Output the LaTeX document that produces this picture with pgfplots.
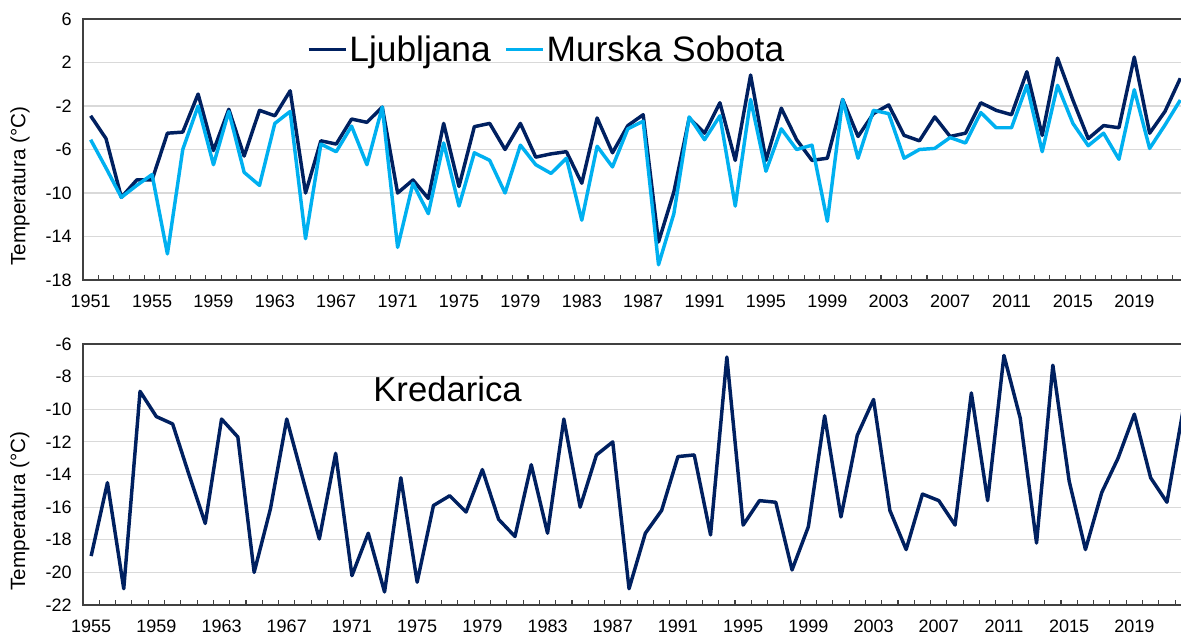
\documentclass[border=0pt]{standalone}
\usepackage{fontspec}
\setmainfont{Liberation Sans}
\usepackage{pgfplots}
\pgfplotsset{compat=1.18}
\definecolor{navy}{HTML}{002060}
\definecolor{sky}{HTML}{00B0F0}
\definecolor{gridc}{HTML}{D9D9D9}
\definecolor{axc}{HTML}{404040}

\pgfplotstableread{
year lj ms
1951 -2.9 -5.1
1952 -5.0 -7.7
1953 -10.4 -10.4
1954 -8.8 -9.3
1955 -8.8 -8.3
1956 -4.5 -15.6
1957 -4.4 -6.0
1958 -0.9 -2.0
1959 -6.1 -7.4
1960 -2.3 -2.5
1961 -6.6 -8.1
1962 -2.4 -9.3
1963 -2.9 -3.6
1964 -0.6 -2.5
1965 -10.0 -14.2
1966 -5.2 -5.5
1967 -5.5 -6.2
1968 -3.2 -3.85
1969 -3.5 -7.4
1970 -2.1 -2.1
1971 -10.0 -15.0
1972 -8.8 -9.1
1973 -10.5 -11.9
1974 -3.6 -5.4
1975 -9.4 -11.2
1976 -3.9 -6.3
1977 -3.6 -7.0
1978 -6.0 -10.0
1979 -3.6 -5.6
1980 -6.7 -7.4
1981 -6.4 -8.2
1982 -6.2 -6.8
1983 -9.1 -12.5
1984 -3.1 -5.7
1985 -6.3 -7.6
1986 -3.8 -4.1
1987 -2.8 -3.4
1988 -14.5 -16.6
1989 -9.9 -11.9
1990 -3.1 -3.0
1991 -4.5 -5.1
1992 -1.7 -2.9
1993 -7.0 -11.2
1994 0.85 -1.4
1995 -7.0 -8.0
1996 -2.2 -4.1
1997 -5.1 -6.0
1998 -7.0 -5.6
1999 -6.8 -12.6
2000 -1.4 -1.4
2001 -4.8 -6.8
2002 -2.7 -2.4
2003 -1.9 -2.7
2004 -4.7 -6.8
2005 -5.2 -6.0
2006 -3.0 -5.9
2007 -4.8 -4.9
2008 -4.5 -5.4
2009 -1.7 -2.6
2010 -2.4 -4.0
2011 -2.8 -4.0
2012 1.15 -0.1
2013 -4.7 -6.2
2014 2.4 -0.1
2015 -1.45 -3.6
2016 -5.0 -5.65
2017 -3.8 -4.5
2018 -4.0 -6.9
2019 2.5 -0.5
2020 -4.5 -5.9
2021 -2.5 -3.75
2022 0.55 -1.45
}\topdata

\pgfplotstableread{
year kr
1955 -19.0
1956 -14.5
1957 -21.0
1958 -8.9
1959 -10.45
1960 -10.9
1961 -14.0
1962 -17.0
1963 -10.6
1964 -11.7
1965 -20.0
1966 -16.1
1967 -10.6
1968 -14.3
1969 -17.95
1970 -12.7
1971 -20.2
1972 -17.6
1973 -21.2
1974 -14.2
1975 -20.6
1976 -15.9
1977 -15.3
1978 -16.3
1979 -13.7
1980 -16.75
1981 -17.8
1982 -13.4
1983 -17.6
1984 -10.6
1985 -16.0
1986 -12.8
1987 -12.0
1988 -21.0
1989 -17.6
1990 -16.2
1991 -12.9
1992 -12.8
1993 -17.7
1994 -6.8
1995 -17.1
1996 -15.6
1997 -15.7
1998 -19.85
1999 -17.2
2000 -10.4
2001 -16.6
2002 -11.6
2003 -9.4
2004 -16.2
2005 -18.6
2006 -15.2
2007 -15.6
2008 -17.1
2009 -9.0
2010 -15.6
2011 -6.7
2012 -10.55
2013 -18.2
2014 -7.3
2015 -14.4
2016 -18.6
2017 -15.1
2018 -13.0
2019 -10.3
2020 -14.2
2021 -15.7
2022 -10.0
}\botdata

\pgfplotsset{
  base/.style={
    scale only axis,
    height=195.75pt,
    axis line style={axc, line width=1pt},
    ymajorgrids=true,
    major grid style={gridc, line width=0.9pt},
    major tick length=0pt,
    minor tick length=3.75pt,
    minor tick style={axc, line width=0.8pt},
    tick align=inside,
    xtick pos=bottom,
    ytick pos=left,
    ticklabel style={font=\fontsize{13.5}{16}\selectfont, text=black},
    /pgf/number format/assume math mode=true,
    /pgf/number format/1000 sep={},
    xticklabel style={yshift=-8pt},
    yticklabel style={xshift=-5pt},
    ylabel={Temperatura (°C)},
    ylabel style={font=\fontsize{15.5}{18}\selectfont, at={(axis description cs:-0.057,0.36)}, anchor=center},
    every axis plot/.append style={line width=2.6pt, line join=round},
  }
}

\begin{document}
\begin{tikzpicture}
\begin{axis}[base,
  at={(62.25pt,-14.25pt)}, anchor=north west,
  width=828.75pt,
  xmin=1950.5, xmax=2022.5,
  ymin=-18, ymax=6,
  ytick={-18,-14,...,6},
  xtick={1951,1955,...,2019},
  minor xtick={1950.5,1951.5,...,2022.5},
  legend columns=2,
  legend style={at={(axis description cs:0.2024,0.884)}, anchor=west, draw=none, fill=none, inner sep=0pt,
    font=\fontsize{26.5}{30}\selectfont, nodes={inner sep=0pt},
    /tikz/every odd column/.style={column sep=1.5pt},
    /tikz/every even column/.style={column sep=10pt}},
  legend image code/.code={\draw[#1,line width=2.6pt] (0pt,0pt) -- (27.75pt,0pt);},
]
\addplot[navy] table[x=year,y=lj] {\topdata};
\addlegendentry{Ljubljana}
\addplot[sky] table[x=year,y=ms] {\topdata};
\addlegendentry{Murska Sobota}
\end{axis}

\begin{axis}[base,
  at={(62.25pt,-258pt)}, anchor=north west,
  width=831.3pt,
  xmin=1954.5, xmax=2022.5,
  ymin=-22, ymax=-6,
  ytick={-22,-20,...,-6},
  xtick={1955,1959,...,2019},
  minor xtick={1954.5,1955.5,...,2022.5},
]
\addplot[navy] table[x=year,y=kr] {\botdata};
\node[anchor=base west, inner sep=0pt, font=\fontsize{26}{30}\selectfont] at (rel axis cs:0.2617,0.778) {Kredarica};
\end{axis}
\pgfresetboundingbox
\useasboundingbox (0,0) rectangle (885.75pt,-477.75pt);
\end{tikzpicture}
\end{document}
